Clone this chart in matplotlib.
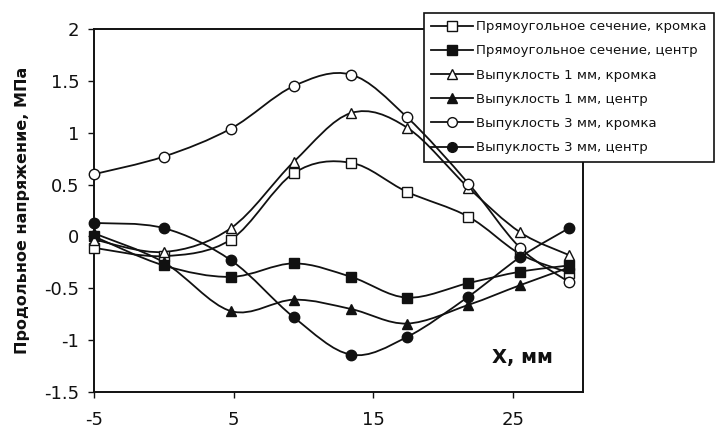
import matplotlib
matplotlib.use("Agg")
import matplotlib.pyplot as plt
from matplotlib.path import Path
from matplotlib.patches import PathPatch

# ---- data ----
x_mm = [-5, 0, 4.8, 9.3, 13.4, 17.4, 21.8, 25.5, 29]
rect_edge = [-0.11, -0.19, -0.03, 0.61, 0.71, 0.43, 0.19, -0.17, -0.35]
rect_center = [0.0, -0.28, -0.39, -0.26, -0.39, -0.59, -0.45, -0.34, -0.28]
conv1_edge = [-0.03, -0.15, 0.08, 0.72, 1.19, 1.05, 0.47, 0.04, -0.18]
conv1_center = [0.03, -0.25, -0.72, -0.61, -0.70, -0.84, -0.66, -0.47, -0.30]
conv3_edge = [0.60, 0.77, 1.04, 1.45, 1.56, 1.15, 0.51, -0.11, -0.44]
conv3_center = [0.13, 0.08, -0.23, -0.78, -1.14, -0.97, -0.58, -0.20, 0.08]

labels = [
    "Прямоугольное сечение, кромка",
    "Прямоугольное сечение, центр",
    "Выпуклость 1 мм, кромка",
    "Выпуклость 1 мм, центр",
    "Выпуклость 3 мм, кромка",
    "Выпуклость 3 мм, центр",
]
series = [rect_edge, rect_center, conv1_edge, conv1_center, conv3_edge, conv3_center]
markers = ["s", "s", "^", "^", "o", "o"]
filled = [False, True, False, True, False, True]

x_ticks = [-5, 5, 15, 25]
y_ticks = [-1.5, -1, -0.5, 0, 0.5, 1, 1.5, 2]
y_ticklabels = ["-1.5", "-1", "-0.5", "0", "0.5", "1", "1.5", "2"]

INK = "#111111"
plt.rcParams["font.family"] = ["DejaVu Sans"]
plt.rcParams["axes.unicode_minus"] = False

fig = plt.figure(figsize=(7.17, 4.30), dpi=100)
ax = fig.add_axes([94 / 717, 1 - 392 / 430, (583 - 94) / 717, (392 - 29) / 430])


def smooth_path(xs, ys):
    pts = list(zip(xs, ys))
    n = len(pts)
    verts = [pts[0]]
    codes = [Path.MOVETO]
    for i in range(n - 1):
        p0 = pts[i - 1] if i > 0 else pts[i]
        p1 = pts[i]
        p2 = pts[i + 1]
        p3 = pts[i + 2] if i + 2 < n else pts[i + 1]
        c1 = (p1[0] + (p2[0] - p0[0]) / 6, p1[1] + (p2[1] - p0[1]) / 6)
        c2 = (p2[0] - (p3[0] - p1[0]) / 6, p2[1] - (p3[1] - p1[1]) / 6)
        verts += [c1, c2, p2]
        codes += [Path.CURVE4] * 3
    return Path(verts, codes)


for ys, m, f, lab in zip(series, markers, filled, labels):
    patch = PathPatch(smooth_path(x_mm, ys), facecolor="none", edgecolor=INK,
                      lw=1.3, zorder=6)
    ax.add_patch(patch)
    ax.plot(x_mm, ys, linestyle="none", marker=m, markersize=7.5,
            markerfacecolor=INK if f else "white", markeredgecolor=INK,
            markeredgewidth=1.0, zorder=7, clip_on=False)

ax.set_xlim(-5, 30)
ax.set_ylim(-1.5, 2)
ax.set_xticks(x_ticks)
ax.set_yticks(y_ticks)
ax.set_yticklabels(y_ticklabels)
ax.tick_params(direction="out", length=4.5, width=1.0, colors=INK,
               labelsize=13, pad=6)
ax.tick_params(axis="x", pad=9)
for sp in ax.spines.values():
    sp.set_linewidth(1.4)
    sp.set_color(INK)

ax.set_ylabel("Продольное напряжение, МПа", fontsize=11.5, fontweight="bold",
              color=INK, labelpad=10)
ax.text(0.814, 0.096, "X, мм", transform=ax.transAxes, fontsize=14,
        fontweight="bold", color=INK, ha="left", va="center", zorder=8)

leg_handles = []
for m, f in zip(markers, filled):
    h, = ax.plot([], [], color=INK, lw=1.3, marker=m, markersize=7,
                 markerfacecolor=INK if f else "white", markeredgecolor=INK,
                 markeredgewidth=1.0)
    leg_handles.append(h)

leg = ax.legend(leg_handles, labels, loc="upper left",
                bbox_to_anchor=(424 / 717, 1 - 13 / 430),
                bbox_transform=fig.transFigure, frameon=True, fancybox=False,
                fontsize=9.5, handlelength=3.2, handletextpad=0.2,
                labelspacing=0.85, borderpad=0.55, borderaxespad=0,
                labelcolor=INK)
leg.get_frame().set_edgecolor(INK)
leg.get_frame().set_linewidth(1.2)
leg.get_frame().set_facecolor("white")
leg.get_frame().set_alpha(1)
leg.set_zorder(5)

fig.savefig("out.png", dpi=100, facecolor="white")
